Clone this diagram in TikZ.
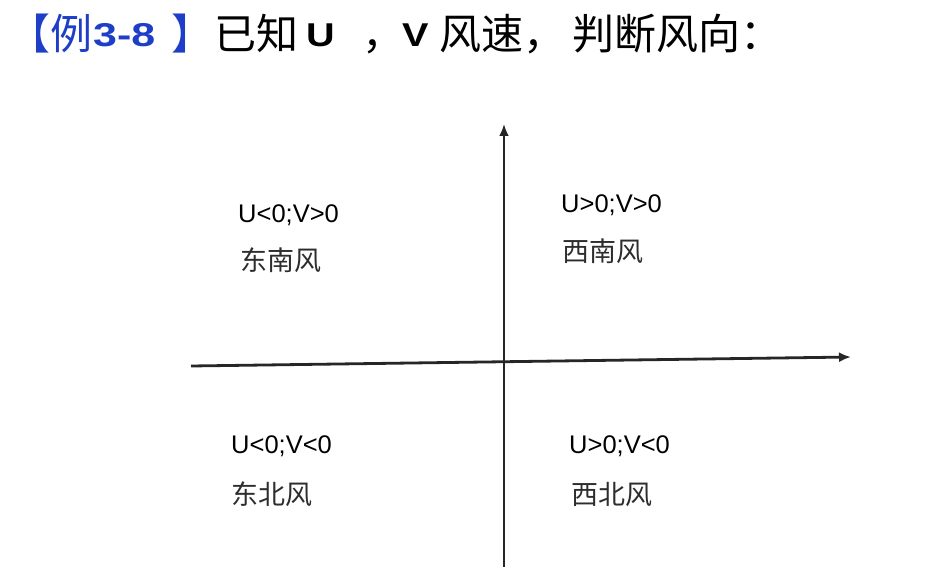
\documentclass[tikz,border=0pt]{standalone}
\usepackage{fontspec}
\setmainfont{Liberation Sans}
\newfontfamily\cjk{Noto Sans CJK SC}
\newfontfamily\lat{Liberation Sans}
\usetikzlibrary{arrows.meta}
\definecolor{titleblue}{RGB}{30,62,200}
\definecolor{labelgray}{RGB}{45,45,45}
\tikzset{
  axis/.style={line width=2.8pt, black!85, -{Latex[length=12pt,width=10pt]}},
  cond/.style={anchor=base west, inner sep=0pt, font=\lat\fontsize{25.5}{30}\selectfont, text=black},
  wind/.style={anchor=base west, inner sep=0pt, font=\cjk\fontsize{27}{31}\selectfont, text=labelgray},
  tcjk/.style={anchor=base west, inner sep=0pt, font=\cjk\fontsize{42}{48}\selectfont},
  tlat/.style={anchor=base west, inner sep=0pt, font=\lat\bfseries\fontsize{33}{40}\selectfont}
}
\begin{document}
\begin{tikzpicture}[x=1pt,y=-1pt]
\useasboundingbox (0,0) rectangle (945,567);
% title
\node[tcjk, text=titleblue] (t1) at (8,50) {【例};
\node[tlat, text=titleblue] (t2) at (93,47) {\scalebox{1.3}[1]{3-8}};
\node[tcjk, text=titleblue] (t3) at (171,50) {】};
\node[tcjk] (t4) at (214,50) {已知};
\node[tlat] (t5) at (306,47) {\scalebox{1.2}[1]{U}};
\node[tcjk] (t6) at (362,50) {，};
\node[tlat] (t7) at (402,47) {\scalebox{1.2}[1]{V}};
\node[tcjk] (t8) at (439,50) {风速，};
\node[tcjk] (t9) at (572,50) {判断风向：};
% axes
\coordinate (xl) at (191,366);
\coordinate (xr) at (851,357);
\coordinate (yb) at (504,567);
\coordinate (yt) at (504,124);
\draw[axis] (xl) -- (xr);
\draw[axis] (yb) -- (yt);
% quadrant labels
\node[cond] (c1) at (238,222) {U<0;V>0};
\node[wind] (w1) at (240,270) {东南风};
\node[cond] (c2) at (561,212) {U>0;V>0};
\node[wind] (w2) at (562,261) {西南风};
\node[cond] (c3) at (231,453) {U<0;V<0};
\node[wind] (w3) at (231,504) {东北风};
\node[cond] (c4) at (569,453) {U>0;V<0};
\node[wind] (w4) at (571,504) {西北风};
\end{tikzpicture}
\end{document}
